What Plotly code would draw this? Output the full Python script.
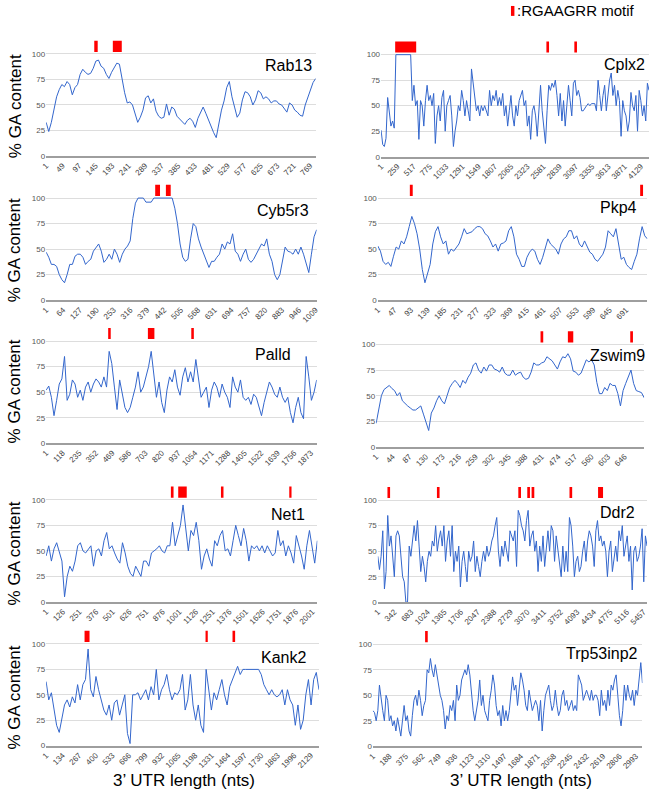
import plotly.graph_objects as go
import numpy as np

# ---------------- data ----------------
genes = ["Rab13", "Cplx2", "Cyb5r3", "Pkp4", "Palld", "Zswim9", "Net1", "Ddr2", "Kank2", "Trp53inp2"]

rab13_len = 785
rab13_ticks = [1, 49, 97, 145, 193, 241, 289, 337, 385, 433, 481, 529, 577, 625, 673, 721, 769]
rab13_gc = [33, 24, 33, 45, 58, 65, 70, 68, 73, 70, 60, 67, 70, 80, 85, 82, 80, 81, 86, 93, 94, 88, 86, 80, 76,
            82, 87, 91, 90, 76, 62, 52, 53, 50, 42, 33, 38, 45, 57, 59, 52, 56, 44, 39, 37, 38, 51, 40, 48, 46,
            39, 36, 33, 31, 35, 37, 34, 28, 37, 43, 48, 42, 35, 30, 23, 18, 32, 45, 54, 67, 73, 58, 48, 38, 42,
            55, 63, 62, 58, 50, 55, 64, 62, 56, 58, 56, 52, 54, 54, 51, 50, 46, 43, 52, 50, 45, 43, 40, 39, 50,
            58, 66, 72, 76]
rab13_motif_start = [141, 195]
rab13_motif_end = [151, 221]

cplx2_len = 4259
cplx2_ticks = [1, 259, 517, 775, 1033, 1291, 1549, 1807, 2065, 2323, 2581, 2839, 3097, 3355, 3613, 3871, 4129]
cplx2_gc = [26, 12, 10, 18, 58, 40, 30, 35, 28, 100, 100, 100, 100, 100, 100, 100, 100, 100, 100, 55,
            70, 50, 55, 17, 55, 50, 30, 55, 70, 55, 60, 50, 62, 13, 40, 50, 35, 58, 65, 25,
            50, 55, 60, 40, 10, 25, 35, 50, 45, 65, 55, 40, 55, 45, 35, 86, 70, 55, 45, 50,
            40, 50, 45, 50, 45, 40, 65, 50, 60, 55, 65, 50, 58, 50, 62, 40, 50, 30, 45, 60,
            40, 30, 50, 40, 55, 60, 65, 50, 55, 30, 40, 17, 45, 50, 40, 20, 50, 70, 45, 30,
            13, 45, 70, 65, 72, 68, 75, 60, 40, 62, 35, 55, 30, 50, 70, 55, 40, 72, 75, 60,
            65, 58, 45, 45, 48, 50, 52, 50, 52, 52, 52, 45, 75, 60, 45, 60, 70, 45, 58, 75,
            82, 60, 70, 50, 65, 55, 20, 55, 45, 40, 25, 35, 63, 50, 45, 60, 25, 65, 55, 40,
            50, 35, 72, 65]
cplx2_motif_start = [225, 2628, 3072]
cplx2_motif_end = [559, 2670, 3114]

cyb5r3_len = 1013
cyb5r3_ticks = [1, 64, 127, 190, 253, 316, 379, 442, 505, 568, 631, 694, 757, 820, 883, 946, 1009]
cyb5r3_gc = [47, 42, 35, 35, 33, 25, 20, 17, 25, 35, 35, 43, 45, 45, 42, 35, 38, 40, 48, 52, 55, 48, 37, 40,
             45, 40, 50, 45, 37, 45, 50, 53, 58, 80, 95, 100, 100, 100, 96, 96, 96, 100, 100, 100, 100, 100,
             100, 100, 100, 90, 75, 55, 42, 38, 40, 60, 75, 72, 60, 52, 45, 40, 32, 38, 38, 42, 45, 55, 50,
             57, 55, 65, 48, 45, 38, 45, 50, 40, 37, 40, 45, 50, 55, 53, 60, 45, 38, 25, 20, 25, 40, 52, 48,
             47, 45, 50, 45, 52, 45, 35, 27, 45, 62, 69]
cyb5r3_motif_start = [409, 449]
cyb5r3_motif_end = [427, 467]

pkp4_len = 750
pkp4_ticks = [1, 47, 93, 139, 185, 231, 277, 323, 369, 415, 461, 507, 553, 599, 645, 691]
pkp4_gc = [53, 48, 38, 35, 37, 33, 43, 52, 50, 58, 55, 62, 72, 82, 75, 65, 50, 30, 17, 25, 35, 55, 67, 72,
           62, 55, 58, 45, 50, 48, 52, 55, 62, 70, 65, 66, 67, 70, 72, 72, 70, 65, 63, 58, 52, 55, 48, 55,
           56, 58, 68, 72, 62, 45, 40, 33, 33, 42, 47, 50, 48, 40, 35, 42, 50, 60, 55, 52, 50, 45, 55, 60,
           62, 68, 68, 60, 63, 55, 52, 58, 52, 47, 45, 40, 38, 42, 45, 52, 68, 65, 62, 70, 55, 40, 42, 35,
           32, 30, 38, 45, 60, 72, 63, 60]
pkp4_motif_start = [90, 730]
pkp4_motif_end = [98, 738]

palld_len = 1915
palld_ticks = [1, 118, 235, 352, 469, 586, 703, 820, 937, 1054, 1171, 1288, 1405, 1522, 1639, 1756, 1873]
palld_gc = [52, 56, 45, 27, 42, 58, 63, 85, 42, 48, 62, 58, 45, 52, 42, 55, 60, 50, 58, 63, 60, 55, 65, 55,
            90, 78, 55, 33, 62, 48, 35, 30, 35, 45, 55, 70, 50, 55, 65, 75, 90, 65, 45, 60, 40, 30, 52, 65,
            60, 72, 55, 47, 65, 74, 60, 70, 60, 82, 62, 45, 50, 55, 35, 52, 60, 55, 45, 58, 50, 45, 35, 65,
            55, 50, 62, 45, 42, 45, 38, 48, 45, 35, 27, 40, 50, 60, 55, 48, 45, 55, 45, 40, 45, 30, 20, 35,
            45, 30, 24, 85, 65, 42, 50, 62]
palld_motif_start = [440, 721, 1028]
palld_motif_end = [458, 767, 1046]

zswim9_len = 697
zswim9_ticks = [1, 44, 87, 130, 173, 216, 259, 302, 345, 388, 431, 474, 517, 560, 603, 646]
zswim9_gc = [23, 35, 50, 56, 58, 60, 57, 55, 50, 53, 45, 42, 40, 38, 36, 36, 38, 40, 32, 25, 16, 33, 38, 45,
             50, 45, 42, 50, 58, 62, 65, 62, 58, 65, 62, 68, 72, 80, 82, 75, 72, 78, 74, 80, 80, 76, 75, 73,
             78, 72, 70, 70, 75, 70, 72, 73, 68, 66, 67, 73, 82, 80, 80, 82, 83, 88, 86, 84, 80, 76, 83, 88,
             87, 91, 86, 74, 73, 70, 72, 78, 85, 83, 85, 80, 63, 52, 52, 58, 55, 62, 60, 60, 52, 40, 55, 62,
             68, 75, 62, 55, 54, 53, 48]
zswim9_motif_start = [428, 499, 661]
zswim9_motif_end = [435, 513, 668]

net1_len = 2038
net1_ticks = [1, 126, 251, 376, 501, 626, 751, 876, 1001, 1126, 1251, 1376, 1501, 1626, 1751, 1876, 2001]
net1_gc = [45, 55, 40, 52, 58, 50, 40, 5, 25, 35, 30, 40, 55, 58, 50, 48, 52, 55, 35, 50, 52, 45, 60, 68,
           52, 55, 48, 42, 38, 58, 48, 35, 28, 25, 35, 30, 25, 40, 40, 35, 48, 50, 52, 55, 50, 48, 55, 55,
           78, 55, 65, 75, 95, 70, 50, 70, 65, 78, 60, 32, 45, 52, 42, 35, 60, 55, 65, 70, 50, 52, 45, 60,
           75, 65, 55, 72, 60, 40, 55, 52, 55, 50, 55, 48, 55, 50, 45, 48, 70, 55, 60, 45, 55, 48, 38, 65,
           55, 45, 32, 55, 70, 55, 38, 60]
net1_motif_start = [938, 993, 1314, 1827]
net1_motif_end = [958, 1057, 1333, 1844]

ddr2_len = 5530
ddr2_ticks = [1, 342, 683, 1024, 1365, 1706, 2047, 2388, 2729, 3070, 3411, 3752, 4093, 4434, 4775, 5116, 5457]
ddr2_gc = [45, 32, 45, 70, 13, 30, 85, 55, 65, 45, 25, 65, 70, 65, 40, 25, 20, 0, 0, 55,
           45, 60, 75, 60, 80, 55, 30, 45, 35, 20, 40, 50, 45, 60, 55, 75, 50, 62, 70, 55,
           75, 40, 60, 70, 45, 75, 30, 50, 40, 55, 15, 40, 50, 35, 20, 50, 40, 45, 60, 30,
           45, 35, 25, 40, 50, 40, 55, 45, 50, 60, 65, 75, 83, 50, 35, 55, 45, 60, 50, 40,
           70, 65, 60, 70, 35, 90, 85, 75, 70, 60, 80, 90, 55, 65, 70, 50, 60, 30, 55, 40,
           65, 35, 55, 70, 50, 75, 70, 40, 65, 50, 35, 25, 55, 30, 50, 30, 83, 75, 55, 25,
           40, 45, 30, 35, 50, 60, 40, 60, 70, 65, 55, 35, 70, 80, 60, 65, 55, 60, 50, 25,
           50, 60, 30, 45, 55, 40, 70, 60, 75, 45, 55, 65, 40, 55, 12, 50, 55, 40, 45, 55,
           72, 20, 65, 55]
ddr2_motif_start = [199, 1215, 2886, 3070, 3159, 3937, 4524]
ddr2_motif_end = [253, 1269, 2941, 3125, 3214, 3992, 4626]

kank2_len = 2195
kank2_ticks = [1, 134, 267, 400, 533, 666, 799, 932, 1065, 1198, 1331, 1464, 1597, 1730, 1863, 1996, 2129]
kank2_gc = [63, 45, 52, 35, 20, 13, 28, 40, 45, 38, 48, 42, 60, 45, 60, 65, 95, 55, 48, 68, 55, 45, 35, 30,
            40, 25, 42, 45, 30, 40, 50, 12, 2, 50, 50, 52, 45, 50, 55, 45, 58, 50, 75, 45, 55, 60, 70, 55,
            45, 52, 50, 55, 70, 35, 45, 70, 40, 25, 40, 20, 13, 75, 55, 35, 52, 45, 55, 65, 50, 40, 58, 65,
            70, 78, 70, 75, 75, 75, 75, 75, 75, 75, 70, 60, 55, 50, 55, 50, 48, 50, 55, 40, 55, 45, 40, 20,
            40, 16, 25, 50, 65, 40, 65, 72, 55]
kank2_motif_start = [310, 1283, 1500]
kank2_motif_end = [350, 1301, 1521]

trp53inp2_len = 3067
trp53inp2_ticks = [1, 188, 375, 562, 749, 936, 1123, 1310, 1497, 1684, 1871, 2058, 2245, 2432, 2619, 2806, 2993]
trp53inp2_gc = [35, 33, 25, 35, 60, 45, 35, 25, 50, 45, 25, 30, 20, 25, 15, 28, 18, 10, 25, 40,
                25, 30, 15, 10, 30, 45, 50, 40, 55, 45, 30, 40, 45, 75, 72, 86, 75, 68, 80, 70,
                60, 50, 45, 35, 17, 30, 25, 40, 35, 45, 25, 60, 45, 50, 65, 70, 75, 70, 80, 70,
                50, 35, 25, 35, 45, 65, 40, 50, 35, 30, 25, 45, 55, 70, 60, 40, 30, 35, 20, 40,
                25, 35, 25, 35, 50, 68, 55, 60, 40, 55, 72, 65, 55, 40, 35, 55, 45, 35, 40, 45,
                40, 25, 45, 15, 35, 50, 55, 60, 45, 35, 40, 55, 40, 30, 35, 50, 55, 40, 45, 35,
                40, 45, 35, 40, 35, 70, 65, 60, 45, 50, 55, 50, 45, 55, 45, 50, 50, 45, 30, 55,
                40, 45, 35, 55, 40, 60, 55, 65, 70, 50, 30, 20, 35, 60, 45, 60, 50, 45, 55, 40,
                55, 50, 70, 82, 62]
trp53inp2_motif_start = [595]
trp53inp2_motif_end = [625]

yticks = [0, 25, 50, 75, 100]

# ---------------- layout geometry (pixels) ----------------
W, H = 656, 800
def fx(p):
    return p / W
def fy(p):
    return 1 - p / H

# left, right, top, bottom of each plot area (pixels)
boxes = [
    (41.7, 315.0, 38.9, 157.0), (381.3, 653.0, 39.6, 157.7),
    (41.7, 316.0, 183.9, 302.0), (378.0, 651.3, 183.9, 302.0),
    (41.7, 316.0, 327.9, 446.0), (376.3, 648.0, 331.2, 449.7),
    (41.7, 316.7, 487.6, 605.7), (378.0, 651.0, 487.9, 606.0),
    (41.7, 318.3, 632.7, 750.3), (373.0, 646.3, 632.9, 751.0),
]
# gene name label positions (right edge x, centre y)
name_pos = [(313, 66), (651, 65), (310, 212), (643, 209), (292, 357),
            (651, 358), (306, 518), (641, 516), (307, 662), (644, 658)]

panels = [
    (rab13_gc, rab13_len, rab13_ticks, rab13_motif_start, rab13_motif_end),
    (cplx2_gc, cplx2_len, cplx2_ticks, cplx2_motif_start, cplx2_motif_end),
    (cyb5r3_gc, cyb5r3_len, cyb5r3_ticks, cyb5r3_motif_start, cyb5r3_motif_end),
    (pkp4_gc, pkp4_len, pkp4_ticks, pkp4_motif_start, pkp4_motif_end),
    (palld_gc, palld_len, palld_ticks, palld_motif_start, palld_motif_end),
    (zswim9_gc, zswim9_len, zswim9_ticks, zswim9_motif_start, zswim9_motif_end),
    (net1_gc, net1_len, net1_ticks, net1_motif_start, net1_motif_end),
    (ddr2_gc, ddr2_len, ddr2_ticks, ddr2_motif_start, ddr2_motif_end),
    (kank2_gc, kank2_len, kank2_ticks, kank2_motif_start, kank2_motif_end),
    (trp53inp2_gc, trp53inp2_len, trp53inp2_ticks, trp53inp2_motif_start, trp53inp2_motif_end),
]

FONT = "Arial, Liberation Sans, sans-serif"
fig = go.Figure()
shapes = []
annotations = []
layout_axes = {}

for i, (gc, n, ticks, ms, me) in enumerate(panels):
    k = i + 1
    xa = "x" if k == 1 else f"x{k}"
    ya = "y" if k == 1 else f"y{k}"
    xs = np.linspace(1, n, len(gc))
    fig.add_trace(go.Scatter(x=xs, y=gc, mode="lines", xaxis=xa, yaxis=ya,
                             line=dict(color="#3366cc", width=1), hoverinfo="skip"))
    l, r, t, b = boxes[i]
    layout_axes["xaxis" if k == 1 else f"xaxis{k}"] = dict(
        domain=[fx(l), fx(r)], range=[1, n], anchor=ya,
        tickmode="array", tickvals=ticks, ticktext=[str(v) for v in ticks],
        tickangle=-45, tickfont=dict(size=8, color="#444", family=FONT),
        showgrid=False, zeroline=False, showline=True, linecolor="#9e9e9e", linewidth=2,
        ticks="", fixedrange=True)
    layout_axes["yaxis" if k == 1 else f"yaxis{k}"] = dict(
        domain=[fy(b), fy(t)], range=[0, 115], anchor=xa,
        tickmode="array", tickvals=yticks, ticktext=[str(v) for v in yticks],
        tickfont=dict(size=8, color="#555", family=FONT),
        showgrid=True, gridcolor="#dddddd", gridwidth=1, zeroline=False, showline=False,
        ticks="", fixedrange=True)
    for s, e in zip(ms, me):
        shapes.append(dict(type="rect", xref=xa, yref=ya, x0=s, x1=e, y0=102, y1=113,
                           fillcolor="#ff0000", line=dict(width=0), layer="above"))
    nx, ny = name_pos[i]
    annotations.append(dict(text=genes[i], x=fx(nx), y=fy(ny), xref="paper", yref="paper",
                            xanchor="right", yanchor="middle", showarrow=False,
                            font=dict(size=16, color="#000", family=FONT)))

# y-axis titles (left column)
for yc in [107, 252, 394, 557, 702]:
    annotations.append(dict(text="% GA content", x=fx(10), y=fy(yc), xref="paper", yref="paper",
                            xanchor="center", yanchor="middle", textangle=-90, showarrow=False,
                            font=dict(size=17, color="#000", family=FONT)))
# x-axis titles
for xc in [181, 523]:
    annotations.append(dict(text="3’ UTR length (nts)", x=fx(xc), y=fy(785), xref="paper", yref="paper",
                            xanchor="center", yanchor="middle", showarrow=False,
                            font=dict(size=17, color="#000", family=FONT)))
# legend
shapes.append(dict(type="rect", xref="paper", yref="paper", x0=fx(513), x1=fx(516.5),
                   y0=fy(16), y1=fy(6), fillcolor="#ff0000", line=dict(width=0)))
annotations.append(dict(text=":RGAAGRR motif", x=fx(517), y=fy(11), xref="paper", yref="paper",
                        xanchor="left", yanchor="middle", showarrow=False,
                        font=dict(size=15, color="#000", family=FONT)))

fig.update_layout(width=W, height=H, margin=dict(l=0, r=0, t=0, b=0),
                  paper_bgcolor="white", plot_bgcolor="white", showlegend=False,
                  shapes=shapes, annotations=annotations, **layout_axes)

fig.write_html("out.html", config={"displayModeBar": False},
               post_script="document.body.style.margin='0';document.body.style.overflow='hidden';")
